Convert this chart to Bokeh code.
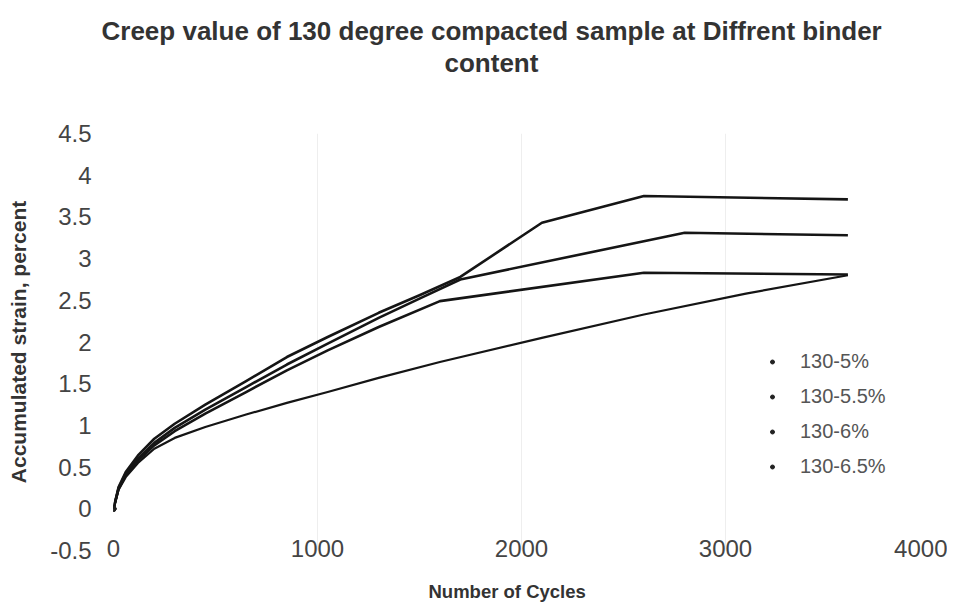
from bokeh.plotting import figure
from bokeh.models import Title, Legend, LegendItem, FixedTicker, Range1d
from bokeh.embed import file_html
from bokeh.resources import INLINE

# ---- data ----
series_names = ["130-5%", "130-5.5%", "130-6%", "130-6.5%"]

cycles_5 = [0, 25, 60, 120, 200, 300, 450, 650, 850, 1050, 1300, 1600, 2100, 2600, 3100, 3600]
strain_5 = [0, 0.23, 0.38, 0.55, 0.72, 0.85, 0.98, 1.13, 1.27, 1.40, 1.57, 1.76, 2.05, 2.33, 2.58, 2.80]

cycles_55 = [0, 25, 60, 120, 200, 300, 450, 650, 850, 1050, 1300, 1600, 2600, 3600]
strain_55 = [0, 0.24, 0.40, 0.58, 0.76, 0.93, 1.14, 1.40, 1.66, 1.90, 2.18, 2.49, 2.83, 2.81]

cycles_6 = [0, 25, 60, 120, 200, 300, 450, 650, 850, 1050, 1300, 1500, 1700, 2800, 3600]
strain_6 = [0, 0.25, 0.42, 0.60, 0.79, 0.97, 1.19, 1.46, 1.73, 1.98, 2.29, 2.52, 2.75, 3.31, 3.28]

cycles_65 = [0, 25, 60, 120, 200, 300, 450, 650, 850, 1050, 1300, 1500, 1700, 2100, 2600, 3600]
strain_65 = [0, 0.26, 0.44, 0.64, 0.84, 1.02, 1.25, 1.53, 1.82, 2.06, 2.35, 2.56, 2.78, 3.43, 3.75, 3.71]

x_ticks = [0, 1000, 2000, 3000, 4000]
x_tick_labels = ["0", "1000", "2000", "3000", "4000"]
y_ticks = [-0.5, 0, 0.5, 1, 1.5, 2, 2.5, 3, 3.5, 4, 4.5]
y_tick_labels = ["-0.5", "0", "0.5", "1", "1.5", "2", "2.5", "3", "3.5", "4", "4.5"]

title_line1 = "Creep value of 130 degree compacted sample at Diffrent binder"
title_line2 = "content"
x_label = "Number of Cycles"
y_label = "Accumulated strain, percent"

FONT = "Liberation Sans"

p = figure(width=947, height=605, output_backend="svg", toolbar_location=None,
           x_range=Range1d(0, 4000), y_range=Range1d(-0.5, 4.5),
           min_border_left=113, min_border_right=18, min_border_top=133,
           min_border_bottom=55, title=None)
p.outline_line_color = None
p.background_fill_color = "white"
p.border_fill_color = "white"

# title block: spacer nearest the frame, then line 2, then line 1 (stacked outward)
p.add_layout(Title(text=" ", text_font_size="10px", standoff=43), "above")
p.add_layout(Title(text=title_line2, align="left", text_font=FONT, text_font_size="26px",
                   text_font_style="bold", text_color="#333333", standoff=0, offset=331), "above")
p.add_layout(Title(text=title_line1, align="left", text_font=FONT, text_font_size="26px",
                   text_font_style="bold", text_color="#333333", standoff=0, offset=-12), "above")

# axes
p.xaxis.ticker = FixedTicker(ticks=x_ticks)
p.xaxis.major_label_overrides = {t: l for t, l in zip(x_ticks, x_tick_labels)}
p.yaxis.ticker = FixedTicker(ticks=y_ticks)
p.yaxis.major_label_overrides = {t: l for t, l in zip(y_ticks, y_tick_labels)}
for ax in (p.xaxis, p.yaxis):
    ax.axis_line_color = None
    ax.major_tick_line_color = None
    ax.major_tick_out = 0
    ax.minor_tick_line_color = None
    ax.major_label_text_font = FONT
    ax.major_label_text_font_size = "24px"
    ax.major_label_text_color = "#444444"
p.xaxis.major_label_standoff = -11
# a blank axis label only reserves room between tick labels and the x title
p.xaxis.axis_label = " "
p.xaxis.axis_label_text_font_size = "1px"
p.xaxis.axis_label_standoff = 17
p.yaxis.major_label_standoff = 22
p.yaxis.axis_label = y_label
p.yaxis.axis_label_text_font = FONT
p.yaxis.axis_label_text_font_style = "bold"
p.yaxis.axis_label_text_color = "#333333"
p.yaxis.axis_label_text_font_size = "21px"
p.yaxis.axis_label_standoff = 17

# x-axis title as a left-aligned title below the axis
p.add_layout(Title(text=x_label, align="left", offset=315, standoff=0, text_font=FONT,
                   text_font_size="18.5px", text_font_style="bold", text_color="#333333",
                   vertical_align="top"), "below")

p.ygrid.grid_line_color = None
p.xgrid.grid_line_color = "#eeeeee"
p.xgrid.grid_line_width = 1

series = [(cycles_5, strain_5, 2.2), (cycles_55, strain_55, 2.6),
          (cycles_6, strain_6, 2.6), (cycles_65, strain_65, 2.6)]
items = []
for name, (xs, ys, lw) in zip(series_names, series):
    p.line(xs, ys, line_color="#151515", line_width=lw, line_join="round")
    r = p.scatter(xs[:1], ys[:1], size=5, fill_color="#222222", line_color="#222222")
    items.append(LegendItem(label=name, renderers=[r]))

legend = Legend(items=items, location=(654, 72), orientation="vertical",
                background_fill_alpha=0, border_line_color=None,
                padding=0, margin=0, spacing=12, glyph_width=10, glyph_height=17,
                label_height=17, label_standoff=23,
                label_text_font=FONT, label_text_font_size="20px", label_text_color="#555555")
p.add_layout(legend, "center")

open("out.html", "w").write(file_html(p, INLINE))
